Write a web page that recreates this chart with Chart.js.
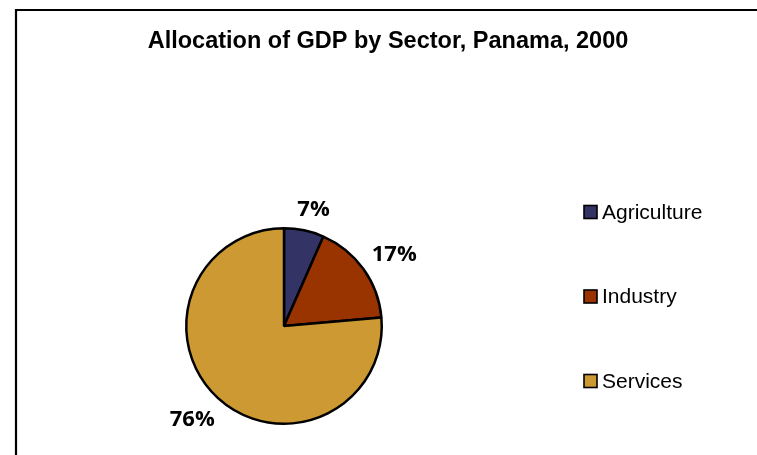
<!DOCTYPE html>
<html>
<head>
<meta charset="utf-8">
<script src="https://cdn.jsdelivr.net/npm/chart.js@4.4.0/dist/chart.umd.min.js"></script>
<style>
    html, body { margin: 0; padding: 0; background: #fff; }
    #wrap { position: relative; width: 757px; height: 455px; }
</style>
</head>
<body>
<div id="wrap"><canvas id="gdpChart"></canvas></div>
<script>
// chart data
const chartTitle = 'Allocation of GDP by Sector, Panama, 2000';
const sectors = ['Agriculture', 'Industry', 'Services'];
const shares = [6.6, 17.0, 76.4];
const sectorColors = ['#333366', '#993300', '#CC9933'];

// frame, title, outside percent labels and the legend
const decorPlugin = {
    id: 'decor',
    afterDraw(chart) {
        const ctx = chart.ctx;
        ctx.save();

        // chart border (only top and left are visible in the shot)
        ctx.strokeStyle = '#000';
        ctx.lineWidth = 2.2;
        ctx.beginPath();
        ctx.moveTo(16, 455);
        ctx.lineTo(16, 10);
        ctx.lineTo(757, 10);
        ctx.stroke();

        ctx.fillStyle = '#000';
        ctx.textAlign = 'center';
        ctx.textBaseline = 'middle';
        ctx.font = 'bold 23.5px "Liberation Sans", Arial, sans-serif';
        ctx.fillText(chartTitle, 388, 42);

        // percent labels just outside each slice
        const meta = chart.getDatasetMeta(0);
        const total = shares.reduce((a, b) => a + b, 0);
        ctx.font = 'bold 22px "Open Sans", sans-serif';
        meta.data.forEach((arc, i) => {
            const p = arc.getProps(['x', 'y', 'startAngle', 'endAngle', 'outerRadius'], true);
            const mid = (p.startAngle + p.endAngle) / 2 + 0.04;
            const txt = Math.round(shares[i] / total * 100) + '%';
            const w = ctx.measureText(txt).width;
            const h = 16;
            const d = p.outerRadius + 11 + 0.5 * w * Math.abs(Math.cos(mid)) + 0.5 * h * Math.abs(Math.sin(mid));
            ctx.fillText(txt, p.x + d * Math.cos(mid), p.y + d * Math.sin(mid) + 1);
        });

        // legend on the right
        const items = Chart.overrides.pie.plugins.legend.labels.generateLabels(chart);
        ctx.font = '21px "Liberation Sans", Arial, sans-serif';
        ctx.textAlign = 'left';
        items.forEach((item, i) => {
            const cy = 212 + i * 84.5;
            ctx.fillStyle = item.fillStyle;
            ctx.fillRect(584, cy - 6.5, 13, 13);
            ctx.lineWidth = 1.6;
            ctx.strokeStyle = '#000';
            ctx.strokeRect(584, cy - 6.5, 13, 13);
            ctx.fillStyle = '#000';
            ctx.fillText(item.text, 602, cy + 1);
        });

        ctx.restore();
    }
};

new Chart(document.getElementById('gdpChart'), {
    type: 'pie',
    data: {
        labels: sectors,
        datasets: [{
            data: shares,
            backgroundColor: sectorColors,
            borderColor: '#000',
            borderWidth: 2.5
        }]
    },
    options: {
        responsive: true,
        maintainAspectRatio: false,
        animation: false,
        layout: {
            padding: { left: 185, top: 227, right: 374, bottom: 30 }
        },
        plugins: {
            legend: { display: false },
            title: { display: false },
            tooltip: { enabled: false }
        }
    },
    plugins: [decorPlugin]
});
</script>
</body>
</html>
